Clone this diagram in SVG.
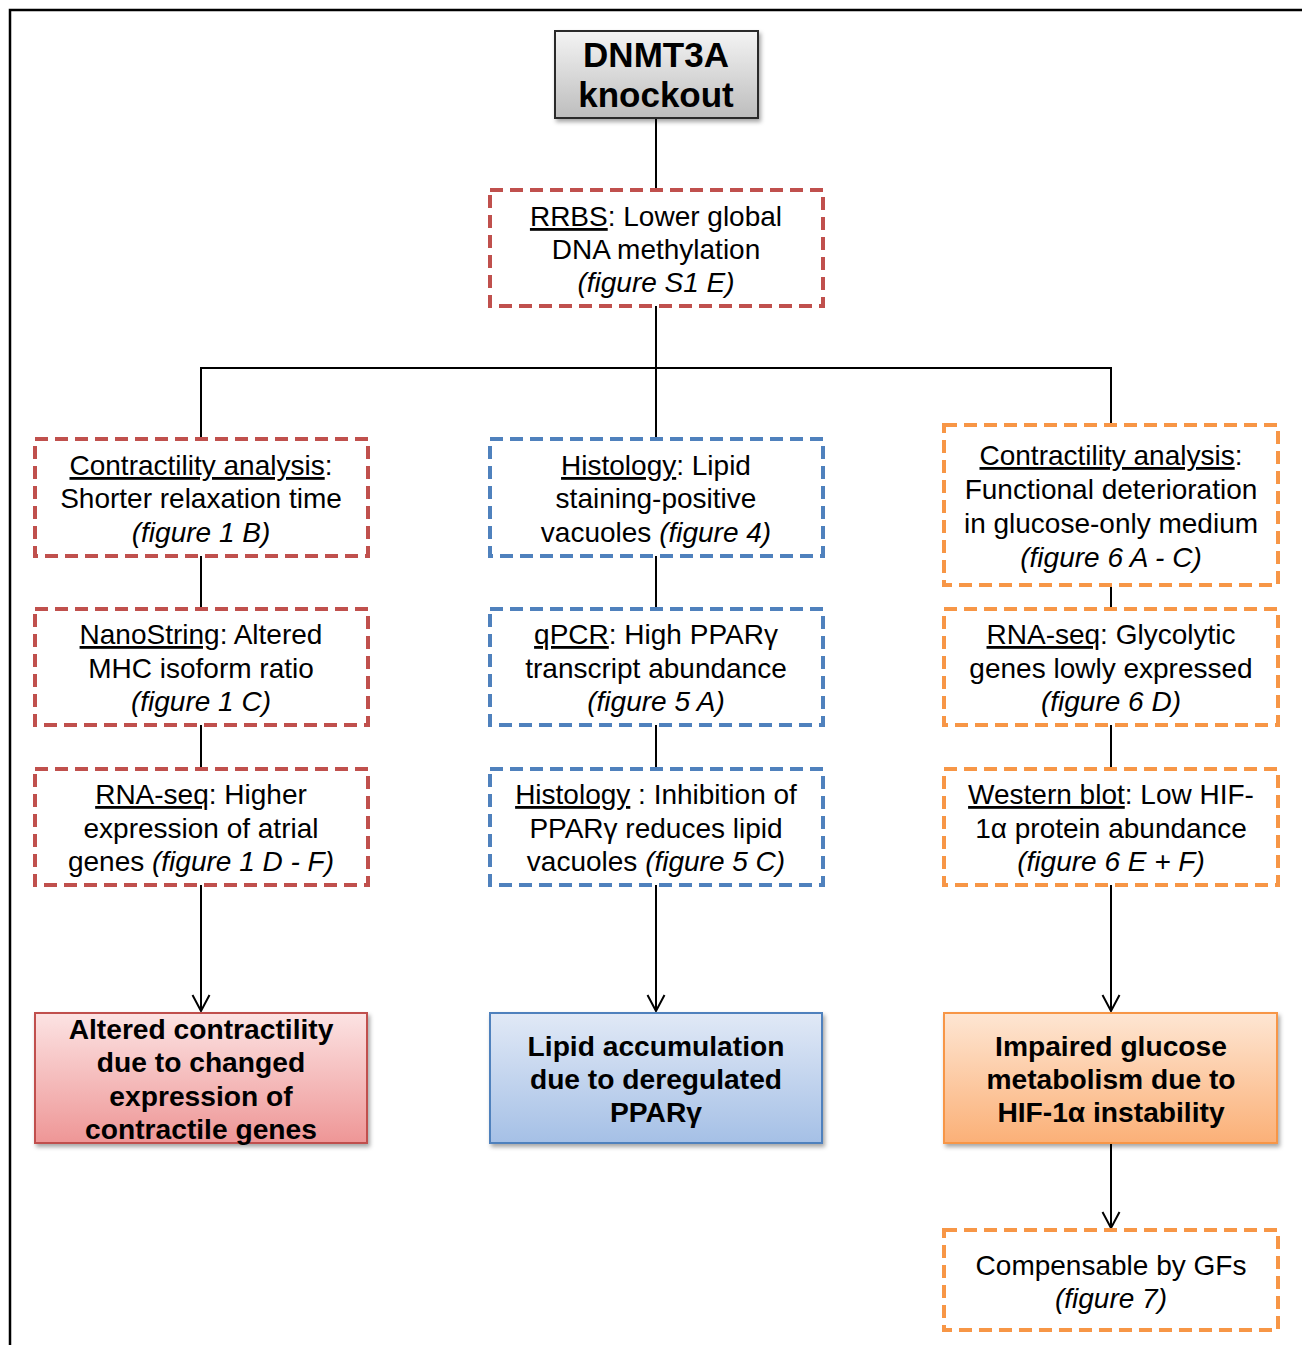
<svg xmlns="http://www.w3.org/2000/svg" width="1302" height="1345" viewBox="0 0 1302 1345">
<defs>
<style>
text{font-family:"Liberation Sans",Arial,sans-serif;font-size:28px;fill:#000;text-anchor:middle}
.b{font-weight:bold;font-size:28.2px}
.i{font-style:italic}
.u{text-decoration:underline}
.red{fill:#fff;stroke:#C0504D;stroke-width:4;stroke-dasharray:13 7}
.blue{fill:#fff;stroke:#4F81BD;stroke-width:4;stroke-dasharray:13 7}
.orange{fill:#fff;stroke:#F79646;stroke-width:4;stroke-dasharray:13 7}
.conn{stroke:#000;stroke-width:2;fill:none}
</style>
<linearGradient id="gGray" x1="0" y1="0" x2="0" y2="1"><stop offset="0" stop-color="#f4f4f4"/><stop offset="1" stop-color="#bdbdbd"/></linearGradient>
<linearGradient id="gRed" x1="0" y1="0" x2="0" y2="1"><stop offset="0" stop-color="#fce3e3"/><stop offset="1" stop-color="#ee9696"/></linearGradient>
<linearGradient id="gBlue" x1="0" y1="0" x2="0" y2="1"><stop offset="0" stop-color="#e1e9f6"/><stop offset="1" stop-color="#a5c0e6"/></linearGradient>
<linearGradient id="gOrange" x1="0" y1="0" x2="0" y2="1"><stop offset="0" stop-color="#fee6d3"/><stop offset="1" stop-color="#fbb077"/></linearGradient>
<filter id="sh" x="-10%" y="-10%" width="125%" height="130%"><feDropShadow dx="2" dy="3" stdDeviation="2" flood-color="#000" flood-opacity="0.35"/></filter>
<marker id="arr" markerWidth="20" markerHeight="20" refX="18" refY="10" orient="auto" markerUnits="userSpaceOnUse" viewBox="0 0 20 20"><path d="M2,1.5 L18,10 L2,18.5" fill="none" stroke="#000" stroke-width="2"/></marker>
</defs>
<rect width="1302" height="1345" fill="#fff"/>
<path d="M10,1345 L10,10 L1302,10" fill="none" stroke="#000" stroke-width="2.5"/>

<g id="connectors">
<path class="conn" d="M656,118 V190"/>
<path class="conn" d="M656,306 V368 M201,439 V368 H1111 V425 M656,368 V439"/>
<path class="conn" d="M201,556 V609 M201,725 V769"/>
<path class="conn" d="M656,556 V609 M656,725 V769"/>
<path class="conn" d="M1111,585 V609 M1111,725 V769"/>
<path class="conn" d="M201,885 V1011" marker-end="url(#arr)"/>
<path class="conn" d="M656,885 V1011" marker-end="url(#arr)"/>
<path class="conn" d="M1111,885 V1011" marker-end="url(#arr)"/>
<path class="conn" d="M1111,1143 V1228" marker-end="url(#arr)"/>
</g>

<g id="n-knockout">
<rect x="555" y="31" width="203" height="87" fill="url(#gGray)" stroke="#2b2b2b" stroke-width="2" filter="url(#sh)"/>
<text class="b" x="656" y="67" style="font-size:35px">DNMT3A</text>
<text class="b" x="656" y="107" style="font-size:35px">knockout</text>
</g>

<g id="n-rrbs">
<rect class="red" x="490" y="190" width="333" height="116"/>
<text x="656" y="226"><tspan class="u">RRBS</tspan>: Lower global</text>
<text x="656" y="259">DNA methylation</text>
<text x="656" y="292" class="i">(figure S1 E)</text>
</g>

<g id="n-contr1">
<rect class="red" x="35" y="439" width="333" height="117"/>
<text x="201" y="475"><tspan class="u">Contractility analysis</tspan>:</text>
<text x="201" y="508">Shorter relaxation time</text>
<text x="201" y="542" class="i">(figure 1 B)</text>
</g>

<g id="n-nanostring">
<rect class="red" x="35" y="609" width="333" height="116"/>
<text x="201" y="644"><tspan class="u">NanoString</tspan>: Altered</text>
<text x="201" y="678">MHC isoform ratio</text>
<text x="201" y="711" class="i">(figure 1 C)</text>
</g>

<g id="n-rnaseq1">
<rect class="red" x="35" y="769" width="333" height="116"/>
<text x="201" y="804"><tspan class="u">RNA-seq</tspan>: Higher</text>
<text x="201" y="838">expression of atrial</text>
<text x="201" y="871">genes <tspan class="i">(figure 1 D - F)</tspan></text>
</g>

<g id="n-histo1">
<rect class="blue" x="490" y="439" width="333" height="117"/>
<text x="656" y="475"><tspan class="u">Histology</tspan>: Lipid</text>
<text x="656" y="508">staining-positive</text>
<text x="656" y="542">vacuoles <tspan class="i">(figure 4)</tspan></text>
</g>

<g id="n-qpcr">
<rect class="blue" x="490" y="609" width="333" height="116"/>
<text x="656" y="644"><tspan class="u">qPCR</tspan>: High PPARγ</text>
<text x="656" y="678">transcript abundance</text>
<text x="656" y="711" class="i">(figure 5 A)</text>
</g>

<g id="n-histo2">
<rect class="blue" x="490" y="769" width="333" height="116"/>
<text x="656" y="804"><tspan class="u">Histology</tspan> : Inhibition of</text>
<text x="656" y="838">PPARγ reduces lipid</text>
<text x="656" y="871">vacuoles <tspan class="i">(figure 5 C)</tspan></text>
</g>

<g id="n-contr2">
<rect class="orange" x="944" y="425" width="334" height="160"/>
<text x="1111" y="465"><tspan class="u">Contractility analysis</tspan>:</text>
<text x="1111" y="499">Functional deterioration</text>
<text x="1111" y="533">in glucose-only medium</text>
<text x="1111" y="567" class="i">(figure 6 A - C)</text>
</g>

<g id="n-rnaseq2">
<rect class="orange" x="944" y="609" width="334" height="116"/>
<text x="1111" y="644"><tspan class="u">RNA-seq</tspan>: Glycolytic</text>
<text x="1111" y="678">genes lowly expressed</text>
<text x="1111" y="711" class="i">(figure 6 D)</text>
</g>

<g id="n-western">
<rect class="orange" x="944" y="769" width="334" height="116"/>
<text x="1111" y="804"><tspan class="u">Western blot</tspan>: Low HIF-</text>
<text x="1111" y="838">1α protein abundance</text>
<text x="1111" y="871" class="i">(figure 6 E + F)</text>
</g>

<g id="n-out1">
<rect x="35" y="1013" width="332" height="130" fill="url(#gRed)" stroke="#C0504D" stroke-width="2" filter="url(#sh)"/>
<text class="b" x="201" y="1039">Altered contractility</text>
<text class="b" x="201" y="1072">due to changed</text>
<text class="b" x="201" y="1106">expression of</text>
<text class="b" x="201" y="1139">contractile genes</text>
</g>

<g id="n-out2">
<rect x="490" y="1013" width="332" height="130" fill="url(#gBlue)" stroke="#4F81BD" stroke-width="2" filter="url(#sh)"/>
<text class="b" x="656" y="1056">Lipid accumulation</text>
<text class="b" x="656" y="1089">due to deregulated</text>
<text class="b" x="656" y="1122">PPARγ</text>
</g>

<g id="n-out3">
<rect x="944" y="1013" width="333" height="130" fill="url(#gOrange)" stroke="#F79646" stroke-width="2" filter="url(#sh)"/>
<text class="b" x="1111" y="1056">Impaired glucose</text>
<text class="b" x="1111" y="1089">metabolism due to</text>
<text class="b" x="1111" y="1122">HIF-1α instability</text>
</g>

<g id="n-gfs">
<rect class="orange" x="944" y="1230" width="334" height="100"/>
<text x="1111" y="1275">Compensable by GFs</text>
<text x="1111" y="1308" class="i">(figure 7)</text>
</g>
</svg>
